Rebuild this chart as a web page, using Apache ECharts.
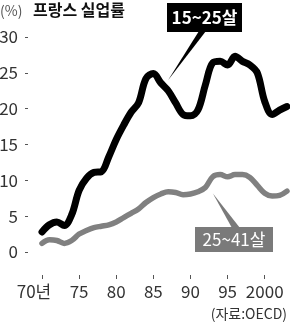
<!DOCTYPE html>
<html>
<head>
<meta charset="utf-8">
<script src="https://cdn.jsdelivr.net/npm/echarts@6/dist/echarts.min.js"></script>
<style>
  html, body { margin: 0; padding: 0; background: #fff; }
  #chart { width: 290px; height: 326px; }
</style>
</head>
<body>
<div id="chart"></div>
<script>
// 프랑스 실업률 (%), 1970~2003
const years = [1970, 1971, 1972, 1973, 1974, 1975, 1976, 1977, 1978, 1979,
  1980, 1981, 1982, 1983, 1984, 1985, 1986, 1987, 1988, 1989,
  1990, 1991, 1992, 1993, 1994, 1995, 1996, 1997, 1998, 1999,
  2000, 2001, 2002, 2003];
const youth = [2.8, 3.8, 4.2, 3.7, 5.2, 8.6, 10.3, 11.1, 11.2, 13.3,
  15.7, 17.7, 19.5, 20.8, 24.2, 24.9, 23.6, 22.5, 20.8, 19.2,
  19.0, 19.8, 23.3, 26.4, 26.6, 26.1, 27.3, 26.6, 26.1, 25.0,
  21.0, 19.2, 19.8, 20.3];
const adult = [1.2, 1.7, 1.6, 1.2, 1.6, 2.5, 3.0, 3.4, 3.6, 3.8,
  4.2, 4.8, 5.4, 6.0, 6.9, 7.6, 8.1, 8.4, 8.3, 8.0,
  8.1, 8.4, 9.0, 10.5, 10.8, 10.5, 10.8, 10.8, 10.4, 9.3,
  8.2, 7.8, 7.9, 8.5];
const xTicks = [1970, 1975, 1980, 1985, 1990, 1995, 2000];
const xTickLabels = ['70년', '75', '80', '85', '90', '95', '2000'];
const yTicks = [0, 5, 10, 15, 20, 25, 30];

const FONT = '"Liberation Sans Narrow", "Noto Sans CJK KR", sans-serif';
const KFONT = '"Noto Sans CJK KR", sans-serif';

const chart = echarts.init(document.getElementById('chart'));

const option = {
  animation: false,
  grid: { left: 42, right: 3, top: 37, bottom: 74, outerBoundsMode: 'none' },
  xAxis: {
    type: 'value',
    min: years[0],
    max: years[years.length - 1],
    offset: 23,
    axisLine: { show: true, onZero: false, lineStyle: { opacity: 0 } },
    splitLine: { show: false },
    axisTick: {
      show: true,
      length: 4,
      customValues: xTicks,
      lineStyle: { color: '#555', width: 1 }
    },
    axisLabel: {
      customValues: xTicks,
      margin: 8,
      fontFamily: FONT,
      fontSize: 17,
      color: '#333',
      formatter: function (v) {
        const i = xTicks.indexOf(v);
        if (i === 0) return '{first|' + xTickLabels[i] + '}';
        return i >= 0 ? xTickLabels[i] : '';
      },
      rich: {
        first: { fontFamily: FONT, fontSize: 17, color: '#333', padding: [0, 16, 0, 0] }
      }
    }
  },
  yAxis: {
    type: 'value',
    min: yTicks[0],
    max: yTicks[yTicks.length - 1],
    interval: 5,
    offset: 14,
    axisLine: { show: true, onZero: false, lineStyle: { opacity: 0 } },
    splitLine: { show: false },
    axisTick: { show: true, length: 3, lineStyle: { color: '#555', width: 1 } },
    axisLabel: {
      margin: 10,
      fontFamily: FONT,
      fontSize: 17,
      color: '#333'
    }
  },
  series: [
    {
      name: '25~41살',
      type: 'line',
      smooth: 0.35,
      showSymbol: false,
      lineStyle: { color: '#808080', width: 5.5, cap: 'round', join: 'round' },
      data: years.map((y, i) => [y, adult[i]])
    },
    {
      name: '15~25살',
      type: 'line',
      smooth: 0.35,
      showSymbol: false,
      lineStyle: { color: '#000', width: 7, cap: 'round', join: 'round' },
      data: years.map((y, i) => [y, youth[i]])
    }
  ]
};
chart.setOption(option);

// callouts, tips anchored to data coordinates
const tipY = chart.convertToPixel({ gridIndex: 0 }, [1987, 24]);
const tipA = chart.convertToPixel({ gridIndex: 0 }, [1993, 8.2]);

chart.setOption({
  graphic: [
    {
      type: 'text', left: 0, top: 4,
      style: { text: '(%)', fontFamily: FONT, fontSize: 14, fill: '#555' }
    },
    {
      type: 'text', left: 33, top: 2,
      style: { text: '프랑스 실업률', fontFamily: KFONT, fontSize: 16, fontWeight: 'bold', fill: '#111' }
    },
    {
      type: 'polygon',
      shape: { points: [[199, 31], [206, 31], tipY] },
      style: { fill: '#000' }
    },
    {
      type: 'rect',
      shape: { x: 167, y: 3, width: 75, height: 29 },
      style: { fill: '#000' }
    },
    {
      type: 'text', x: 204.5, y: 17.5,
      style: {
        text: '15~25살', fontFamily: KFONT, fontSize: 17, fontWeight: 'bold',
        fill: '#fff', align: 'center', verticalAlign: 'middle'
      }
    },
    {
      type: 'polygon',
      shape: { points: [[232, 228], [240, 228], tipA] },
      style: { fill: '#7a7a7a' }
    },
    {
      type: 'rect',
      shape: { x: 195, y: 227, width: 78, height: 25 },
      style: { fill: '#7a7a7a' }
    },
    {
      type: 'text', x: 234, y: 239.5,
      style: {
        text: '25~41살', fontFamily: KFONT, fontSize: 17,
        fill: '#fff', align: 'center', verticalAlign: 'middle'
      }
    },
    {
      type: 'text', right: 3, top: 307,
      style: { text: '(자료:OECD)', fontFamily: KFONT, fontSize: 14, fill: '#333' }
    }
  ]
});
</script>
</body>
</html>
